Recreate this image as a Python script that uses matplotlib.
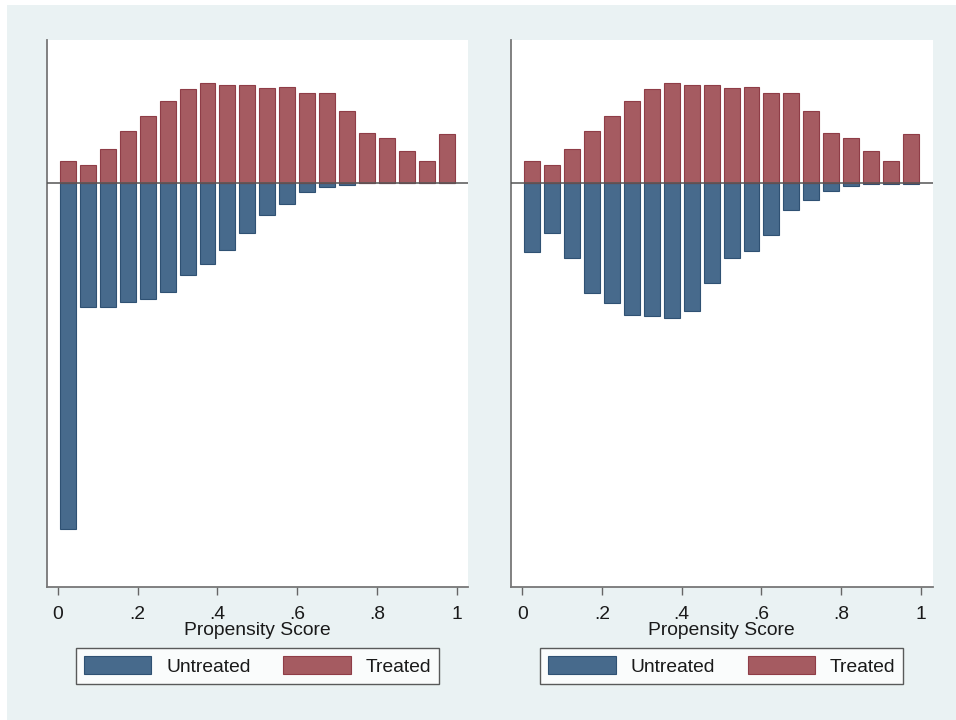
import matplotlib.pyplot as plt
import numpy as np
from matplotlib.patches import Rectangle

plt.rcParams['font.family'] = ['Liberation Sans', 'DejaVu Sans']

# histogram bins on the propensity score, width .05
bin_centers = np.arange(0.025, 1.0, 0.05)

# bar heights (same scale for both panels)
treated = [22.3, 18.3, 34.3, 52.0, 67.3, 82.0, 93.7, 99.7, 98.3, 97.7,
           95.0, 96.0, 90.3, 90.3, 72.3, 50.3, 44.7, 32.0, 22.0, 48.7]
untreated_before = [346.0, 124.0, 124.0, 119.0, 116.3, 109.3, 92.3, 81.0, 67.0, 49.7,
                    32.0, 20.7, 9.3, 4.3, 2.0, 0.4, 0.4, 0.4, 0.4, 0.4]
untreated_after = [68.7, 50.0, 75.3, 109.7, 120.3, 132.3, 133.3, 134.7, 127.7, 100.3,
                   74.7, 67.7, 51.7, 26.7, 17.0, 8.3, 2.7, 0.5, 0.5, 0.5]

xticks = [0, 0.2, 0.4, 0.6, 0.8, 1.0]
xtick_labels = ['0', '.2', '.4', '.6', '.8', '1']

blue = '#476a8c'
blue_edge = '#2f5173'
red = '#a55b61'
red_edge = '#8f3d47'
bg = '#eaf2f3'
fs = 13.9

fig = plt.figure(figsize=(9.56, 7.2), dpi=100)
fig.patch.set_facecolor('white')
# graph region background, white strip only along left and top edges
fig.patches.append(Rectangle((7 / 956, 0), 1, 715 / 720,
                             transform=fig.transFigure, facecolor=bg,
                             edgecolor='none', zorder=-10))

panels = [(46.7 / 956, untreated_before), (511 / 956, untreated_after)]
for left, untreated in panels:
    ax = fig.add_axes([left, 1 - 587 / 720, 421.5 / 956, 547 / 720])
    ax.set_facecolor('white')
    ax.bar(bin_centers, -np.array(untreated), width=0.04, color=blue,
           edgecolor=blue_edge, linewidth=0.8, label='Untreated', zorder=2)
    ax.bar(bin_centers, treated, width=0.04, color=red,
           edgecolor=red_edge, linewidth=0.8, label='Treated', zorder=2)
    ax.axhline(0, color='#555555', linewidth=1.1, zorder=3)

    ax.set_xlim(-0.0283, 1.029)
    ax.set_ylim(-404, 143)
    ax.set_yticks([])
    ax.set_xticks(xticks)
    ax.set_xticklabels(xtick_labels, fontsize=fs, color='#1a1a1a')
    ax.tick_params(axis='x', length=6, width=1, color='#666666', pad=8)
    for s in ['top', 'right']:
        ax.spines[s].set_visible(False)
    for s in ['left', 'bottom']:
        ax.spines[s].set_color('#777777')
        ax.spines[s].set_linewidth(1.3)
    ax.set_xlabel('Propensity Score', fontsize=fs, color='#1a1a1a', labelpad=-1)

    leg = ax.legend(loc='upper center', bbox_to_anchor=(0.5, -0.112), ncol=2,
                    fontsize=fs, frameon=True, fancybox=False,
                    edgecolor='#333333', handlelength=3.5, handleheight=1.0,
                    handletextpad=0.76, columnspacing=1.7, borderpad=0.42,
                    borderaxespad=0)
    leg.get_frame().set_linewidth(1.0)
    for t in leg.get_texts():
        t.set_color('#1a1a1a')

fig.savefig('out.png', dpi=100, facecolor=fig.get_facecolor())
